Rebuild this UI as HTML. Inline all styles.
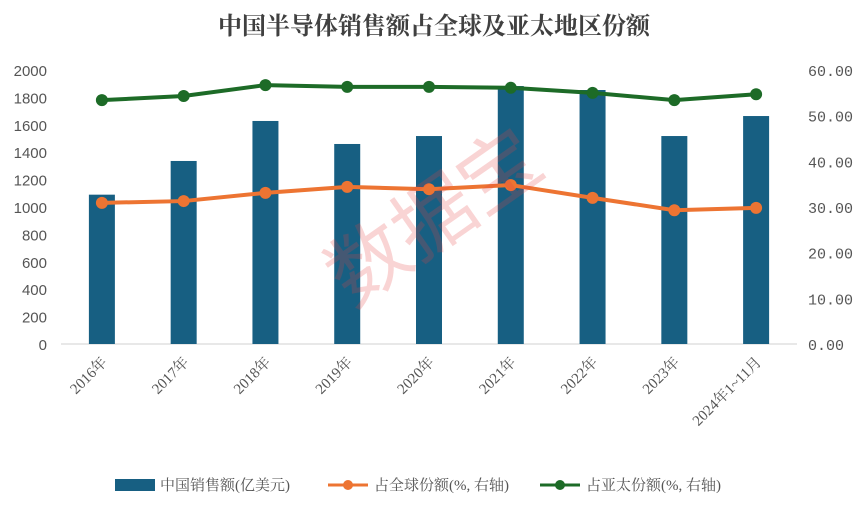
<!DOCTYPE html>
<html><head><meta charset="utf-8">
<style>
body{margin:0;background:#fff;}
svg{display:block;font-family:"Liberation Sans","Noto Sans CJK SC",sans-serif;}
</style></head>
<body>
<svg id="chart" width="868" height="505" viewBox="0 0 868 505">
<text x="434" y="34" text-anchor="middle" font-size="24" font-weight="bold" fill="#404040" font-family="'Noto Serif CJK SC','Noto Sans CJK SC',serif">中国半导体销售额占全球及亚太地区份额</text>
<g id="axes"></g>
<g id="bars"></g>
<g id="lines"></g>
<text x="450" y="240" text-anchor="middle" font-size="80" fill="#e84040" opacity="0.22" transform="rotate(-35 450 240)">数据宝</text>
<g font-family="'Liberation Serif','Noto Serif CJK SC',serif">
<rect x="115" y="479" width="40" height="12" fill="#175f82"/>
<text x="160" y="490" font-size="15" fill="#555">中国销售额(亿美元)</text>
<line x1="328" y1="485" x2="368" y2="485" stroke="#ed7432" stroke-width="3"/>
<circle cx="348" cy="485" r="5" fill="#ed7432"/>
<text x="374" y="490" font-size="15" fill="#555">占全球份额(%, 右轴)</text>
<line x1="540" y1="485" x2="580" y2="485" stroke="#1d6b27" stroke-width="3"/>
<circle cx="560" cy="485" r="5" fill="#1d6b27"/>
<text x="586" y="490" font-size="15" fill="#555">占亚太份额(%, 右轴)</text>
</g>
</svg>
<script>
const categories=["2016年","2017年","2018年","2019年","2020年","2021年","2022年","2023年","2024年1~11月"];
const sales=[1090,1336,1628,1460,1518,1883,1854,1518,1664];
const globalShare=[30.9,31.3,33.1,34.4,33.9,34.8,32.0,29.3,29.8];
const apacShare=[53.4,54.3,56.7,56.3,56.3,56.1,55.0,53.4,54.7];
const leftTicks=[0,200,400,600,800,1000,1200,1400,1600,1800,2000];
const rightTicks=["0.00","10.00","20.00","30.00","40.00","50.00","60.00"];
const NS="http://www.w3.org/2000/svg";
const x0=61,x1=797,yB=344,yT=70;
const step=(x1-x0)/categories.length;
const xc=i=>x0+step*(i+0.5);
const yL=v=>yB-(v/2000)*(yB-yT);
const yR=v=>yB-(v/60)*(yB-yT);
function mk(tag,attrs,parent){const e=document.createElementNS(NS,tag);for(const k in attrs)e.setAttribute(k,attrs[k]);parent.appendChild(e);return e;}
const ax=document.getElementById('axes');
const base=mk('line',{x1:x0,y1:yB,x2:x1,y2:yB,stroke:'#d0d0d0'},ax);


leftTicks.forEach(t=>{const e=mk('text',{x:47,y:yL(t)+6,'text-anchor':'end','font-size':15,fill:'#555'},ax);e.textContent=t;

});
rightTicks.forEach(t=>{const e=mk('text',{x:808,y:yR(parseFloat(t))+6,'font-size':15,fill:'#555','font-family':'Liberation Mono,monospace'},ax);e.textContent=t;

});
categories.forEach((c,i)=>{const x=xc(i)+6,y=yB+19;const e=mk('text',{x:x,y:y,'text-anchor':'end','font-size':15,fill:'#555','font-family':"'Liberation Serif','Noto Serif CJK SC',serif",transform:`rotate(-45 ${x} ${y})`},ax);e.textContent=c;

});
const bg=document.getElementById('bars');
sales.forEach((v,i)=>{const r=mk('rect',{x:xc(i)-13,y:yL(v),width:26,height:yB-yL(v),fill:'#175f82'},bg);

});
const lg=document.getElementById('lines');
function series(arr,color,name){
const p=mk('polyline',{points:arr.map((v,i)=>xc(i)+','+yR(v)).join(' '),fill:'none',stroke:color,'stroke-width':4},lg);


arr.forEach((v,i)=>{const c=mk('circle',{cx:xc(i),cy:yR(v),r:6,fill:color},lg);

});
}
series(globalShare,'#ed7432','global-share');
series(apacShare,'#1d6b27','apac-share');
</script>
</body></html>
